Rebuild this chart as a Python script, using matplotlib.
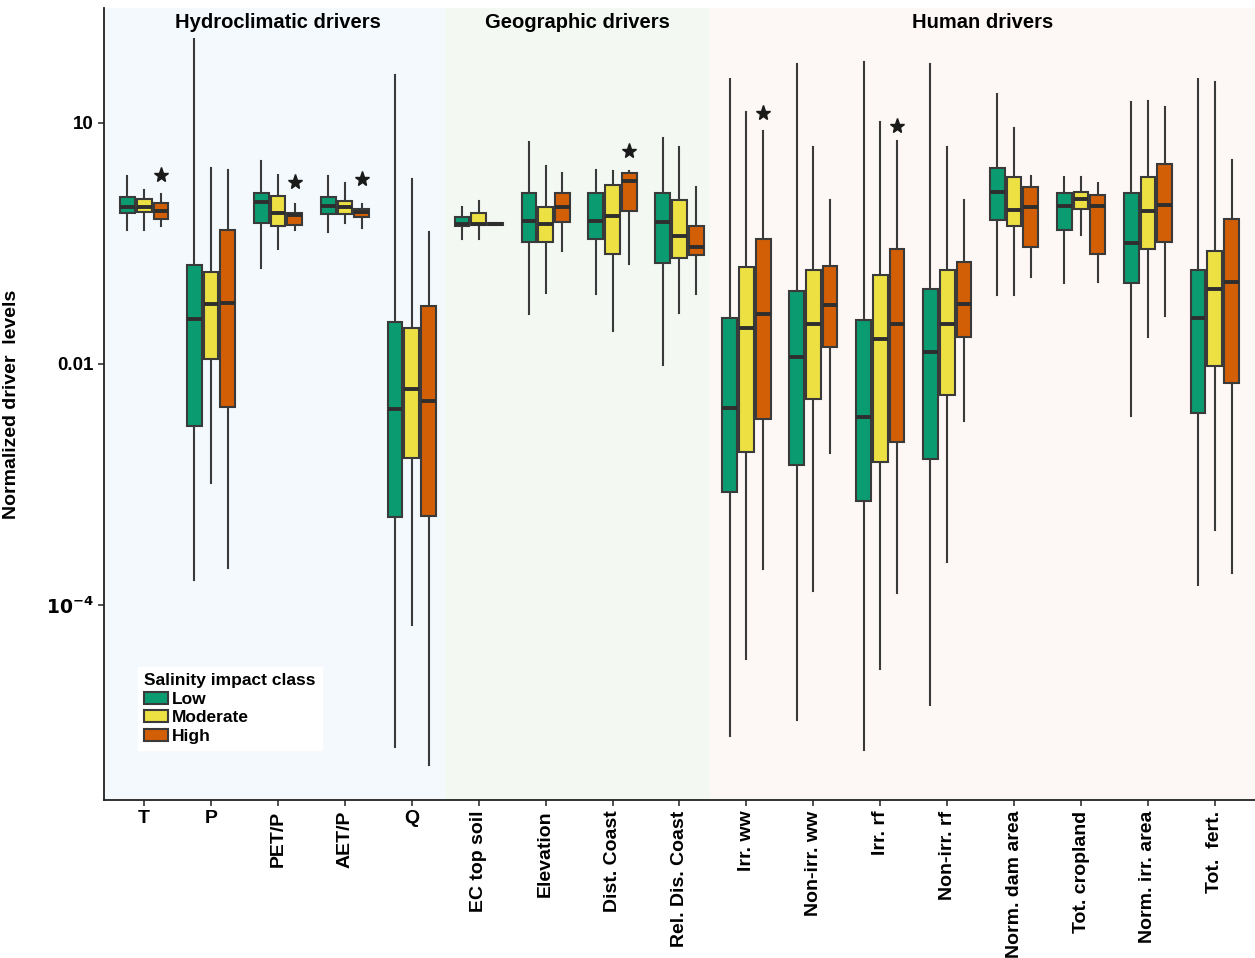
import matplotlib
matplotlib.use("Agg")
import matplotlib.pyplot as plt
from matplotlib.patches import Patch
import numpy as np

plt.rcParams['font.family'] = ['Liberation Sans', 'DejaVu Sans']

drivers = ["T", "P", "PET/P", "AET/P", "Q", "EC top soil", "Elevation", "Dist. Coast",
           "Rel. Dis. Coast", "Irr. ww", "Non-irr. ww", "Irr. rf", "Non-irr. rf",
           "Norm. dam area", "Tot. cropland", "Norm. irr. area", "Tot.  fert."]
classes = ["Low", "Moderate", "High"]
colors = ["#0A9B70", "#ECE043", "#D25F06"]

# box statistics as log10 values: lower whisker, q1, median, q3, upper whisker
low = [[-0.33, -0.12, -0.05, 0.08, 0.34],
       [-4.69, -2.78, -1.44, -0.77, 2.05],
       [-0.81, -0.25, 0.02, 0.13, 0.53],
       [-0.36, -0.13, -0.03, 0.08, 0.34],
       [-6.77, -3.91, -2.56, -1.48, 1.59],
       [-0.44, -0.29, -0.26, -0.17, -0.05],
       [-1.38, -0.48, -0.22, 0.13, 0.76],
       [-1.13, -0.44, -0.22, 0.13, 0.41],
       [-2.01, -0.74, -0.23, 0.13, 0.81],
       [-6.63, -3.59, -2.55, -1.43, 1.54],
       [-6.44, -3.26, -1.91, -1.09, 1.73],
       [-6.81, -3.71, -2.66, -1.45, 1.76],
       [-6.25, -3.18, -1.85, -1.07, 1.73],
       [-1.14, -0.21, 0.14, 0.44, 1.36],
       [-0.99, -0.33, -0.03, 0.13, 0.33],
       [-2.65, -0.99, -0.49, 0.13, 1.26],
       [-4.75, -2.61, -1.43, -0.83, 1.54]]
moderate = [[-0.33, -0.11, -0.05, 0.05, 0.17],
            [-3.48, -1.94, -1.25, -0.86, 0.44],
            [-0.57, -0.28, -0.12, 0.09, 0.35],
            [-0.25, -0.13, -0.05, 0.03, 0.25],
            [-5.25, -3.17, -2.31, -1.55, 0.30],
            [-0.44, -0.27, -0.26, -0.12, 0.03],
            [-1.12, -0.48, -0.26, -0.05, 0.46],
            [-1.59, -0.63, -0.16, 0.23, 0.40],
            [-1.37, -0.68, -0.41, 0.04, 0.70],
            [-5.67, -3.10, -1.55, -0.79, 1.14],
            [-4.83, -2.44, -1.50, -0.83, 0.70],
            [-5.80, -3.22, -1.69, -0.89, 1.01],
            [-4.47, -2.39, -1.50, -0.83, 0.70],
            [-1.14, -0.29, -0.08, 0.32, 0.94],
            [-0.39, -0.07, 0.05, 0.14, 0.32],
            [-1.66, -0.57, -0.10, 0.32, 1.27],
            [-4.07, -2.03, -1.07, -0.59, 1.51]]
high = [[-0.28, -0.20, -0.10, 0.00, 0.12],
        [-4.54, -2.54, -1.24, -0.33, 0.41],
        [-0.34, -0.27, -0.15, -0.12, -0.01],
        [-0.31, -0.17, -0.11, -0.07, -0.01],
        [-6.99, -3.89, -2.46, -1.28, -0.36],
        [-0.27, -0.27, -0.26, -0.25, -0.25],
        [-0.59, -0.23, -0.05, 0.13, 0.38],
        [-0.76, -0.10, 0.28, 0.38, 0.40],
        [-1.13, -0.64, -0.54, -0.29, 0.20],
        [-4.55, -2.69, -1.38, -0.44, 0.90],
        [-3.11, -1.79, -1.27, -0.78, 0.04],
        [-4.85, -2.97, -1.50, -0.57, 0.78],
        [-2.71, -1.66, -1.25, -0.73, 0.04],
        [-0.92, -0.54, -0.05, 0.20, 0.34],
        [-0.98, -0.63, -0.03, 0.10, 0.25],
        [-1.40, -0.48, -0.02, 0.49, 1.20],
        [-4.61, -2.24, -0.98, -0.20, 0.54]]

# significance stars above the High class (driver index, log10 height)
star_idx = [0, 2, 3, 7, 9, 11]
star_lvl = [0.35, 0.27, 0.30, 0.65, 1.12, 0.96]

groups = ["Hydroclimatic drivers", "Geographic drivers", "Human drivers"]
group_span = [(-0.6, 4.5), (4.5, 8.45), (8.45, 16.6)]
group_bg = ["#F4F9FD", "#F3F8F3", "#FDF8F5"]

fig = plt.figure(figsize=(12.55, 9.58), dpi=100)
ax = fig.add_axes([104 / 1255, 1 - 800 / 958, 1 - 104 / 1255, 792 / 958])

for (a, b), c, name in zip(group_span, group_bg, groups):
    ax.axvspan(a, b, color=c, zorder=0, lw=0)
    ax.text((a + b) / 2 + (0.05 if name.startswith("Hydro") else 0), 0.982, name,
            transform=ax.get_xaxis_transform(), ha="center", va="center",
            fontsize=14.5, fontweight="bold")

x = np.arange(len(drivers))
offsets = [-0.25, 0.0, 0.25]
for series, off, col in zip([low, moderate, high], offsets, colors):
    stats = []
    for s in series:
        wl, q1, med, q3, wh = (10 ** np.array(s))
        stats.append(dict(whislo=wl, q1=q1, med=med, q3=q3, whishi=wh, fliers=[]))
    bp = ax.bxp(stats, positions=x + off, widths=0.22, patch_artist=True,
                showfliers=False, showcaps=False, manage_ticks=False,
                boxprops=dict(facecolor=col, edgecolor="#3a3a3a", linewidth=1.5),
                medianprops=dict(color="#2e2e2e", linewidth=2.8),
                whiskerprops=dict(color="#3a3a3a", linewidth=1.5))
    for b in bp["boxes"]:
        b.set_zorder(3)
    for m in bp["medians"]:
        m.set_zorder(4)

ax.plot(x[star_idx] + 0.25, 10 ** np.array(star_lvl), ls="none", marker="*",
        ms=11, color="#1a1a1a", zorder=5)

ax.set_yscale("log")
ax.set_ylim(10 ** -7.43, 10 ** 2.43)
ax.set_xlim(-0.6, 16.6)
ax.set_yticks([10, 0.01, 1e-5])
ax.set_yticklabels(["10", "0.01", "$\\mathbf{10^{-4}}$"], fontsize=13.5, fontweight="bold")
ax.minorticks_off()
ax.set_xticks(x)
ax.set_xticklabels(drivers, fontsize=14, fontweight="bold")
for lab in ax.get_xticklabels():
    if len(lab.get_text()) > 1:
        lab.set_rotation(90)
ax.set_ylabel("Normalized driver  levels", fontsize=14, fontweight="bold")
ax.yaxis.set_label_coords(-84 / 1151, 0.5)
ax.tick_params(axis="both", length=4, width=1.2, color="#333333")

for s in ["top", "right"]:
    ax.spines[s].set_visible(False)
for s in ["left", "bottom"]:
    ax.spines[s].set_linewidth(1.3)
    ax.spines[s].set_color("#222222")

handles = [Patch(facecolor=c, edgecolor="#3a3a3a", linewidth=1.5, label=l)
           for c, l in zip(colors, classes)]
leg = ax.legend(handles=handles, title="Salinity impact class", loc="lower left",
                bbox_to_anchor=(0.022, 0.052), frameon=True, fancybox=False,
                edgecolor="white", facecolor="white", framealpha=1,
                prop=dict(weight="bold", size=12.5), handlelength=1.4,
                handletextpad=0.2, labelspacing=0.2, borderpad=0.35)
leg.get_title().set_fontweight("bold")
leg.get_title().set_fontsize(12.5)
leg._legend_box.align = "left"

fig.savefig("out.png", dpi=100)
